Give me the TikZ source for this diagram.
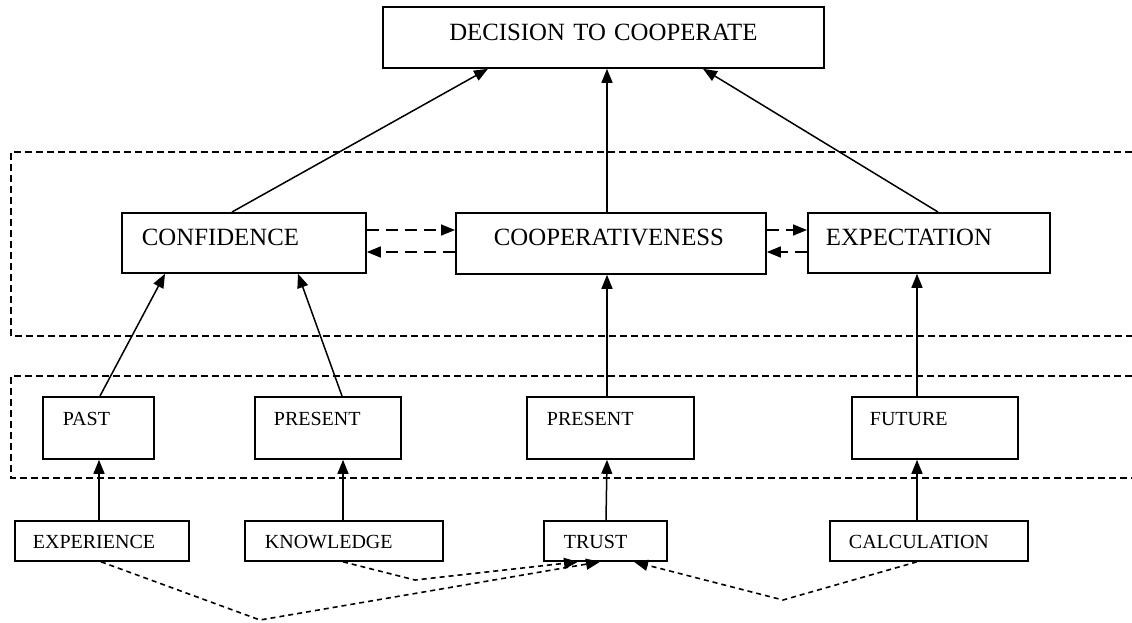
\documentclass[tikz,border=0pt]{standalone}
\usepackage{fontspec}
\setmainfont{Liberation Serif}
\usetikzlibrary{arrows.meta}
\tikzset{
  bx/.style={draw, line width=1.8pt, inner xsep=2pt, inner ysep=0pt, anchor=north west, align=left},
  big/.style={font=\fontsize{24.8}{28}\selectfont, text height=33pt, text depth=27pt},
  mid/.style={font=\fontsize{20}{24}\selectfont, text height=29pt, text depth=33pt},
  low/.style={font=\fontsize{20}{24}\selectfont, text height=28pt, text depth=12pt},
  arr/.style={line width=1.5pt, -{Triangle[length=14pt,width=11pt]}},
  darr/.style={line width=1.7pt, dash pattern=on 12pt off 7pt, -{Triangle[length=14pt,width=11pt]}},
  barr/.style={line width=1.6pt, dash pattern=on 5pt off 4pt, -{Triangle[length=14pt,width=11pt]}},
  frame/.style={line width=1.5pt, dash pattern=on 7pt off 4pt}
}
\begin{document}
\begin{tikzpicture}[x=1pt,y=-1pt]
\fill[white] (0,0) rectangle (1132,622);
\useasboundingbox (0,0) rectangle (1132,622);

% dashed frames (open at right)
\draw[frame] (1132,152) -- (11,152) -- (11,336) -- (1132,336);
\draw[frame] (1132,376) -- (11,376) -- (11,478) -- (1132,478);

% top
\node[bx, font=\fontsize{24.8}{28}\selectfont, text height=34pt, text depth=27pt, text width=437pt, align=center] (dec) at (382,6) {DECISION TO COOPERATE};

% middle level
\node[bx, big, text width=240pt] (conf) at (121,212) {\hspace*{18pt}CONFIDENCE};
\node[bx, big, text width=306pt, text depth=28pt] (coop) at (455,212) {\hspace*{36pt}COOPERATIVENESS};
\node[bx, big, text width=238pt] (expe) at (807,212) {\hspace*{16pt}EXPECTATION};

% time level
\node[bx, mid, text width=107pt] (past) at (42,396) {\hspace*{18pt}PAST};
\node[bx, mid, text width=142pt] (pres1) at (254,396) {\hspace*{17pt}PRESENT};
\node[bx, mid, text width=163pt] (pres2) at (526,396) {\hspace*{18pt}PRESENT};
\node[bx, mid, text width=162pt] (fut) at (851,396) {\hspace*{16pt}FUTURE};

% bottom level
\node[bx, low, text width=170pt] (expr) at (14,520) {\hspace*{16pt}EXPERIENCE};
\node[bx, low, text width=194pt] (know) at (244,520) {\hspace*{18pt}KNOWLEDGE};
\node[bx, low, text width=119pt] (trust) at (543,520) {\hspace*{18pt}TRUST};
\node[bx, low, text width=194pt] (calc) at (829,520) {\hspace*{17pt}CALCULATION};

% arrows to decision
\draw[arr] ([xshift=111pt]conf.north west) -- ([xshift=106pt]dec.south west);
\draw[arr] ([xshift=152pt]coop.north west) -- ([xshift=225pt]dec.south west);
\draw[arr] ([xshift=131pt]expe.north west) -- ([xshift=321pt]dec.south west);

% dashed exchanges
\draw[darr] ([yshift=-18pt]conf.north east) -- ([yshift=-18pt]coop.north west);
\draw[darr] ([yshift=-40pt]coop.north west) -- ([yshift=-40pt]conf.north east);
\draw[darr] ([yshift=-18pt]coop.north east) -- ([yshift=-18pt]expe.north west);
\draw[darr] ([yshift=-40pt]expe.north west) -- ([yshift=-40pt]coop.north east);

% time level to middle level
\draw[arr] ([xshift=58pt]past.north west) -- ([xshift=44pt]conf.south west);
\draw[arr] ([xshift=88pt]pres1.north west) -- ([xshift=177pt]conf.south west);
\draw[arr] ([xshift=81pt]pres2.north west) -- ([xshift=152pt]coop.south west);
\draw[arr] ([xshift=66pt]fut.north west) -- ([xshift=110pt]expe.south west);

% bottom to time level
\draw[arr] ([xshift=85pt]expr.north west) -- ([xshift=57pt]past.south west);
\draw[arr] ([xshift=99pt]know.north west) -- ([xshift=89pt]pres1.south west);
\draw[arr] ([xshift=63pt]trust.north west) -- ([xshift=81pt]pres2.south west);
\draw[arr] ([xshift=88pt]calc.north west) -- ([xshift=66pt]fut.south west);

% dashed links to trust
\coordinate (v1) at (260,620);
\coordinate (v2) at (415,580);
\coordinate (v3) at (783,600);
\draw[barr] ([xshift=87pt]expr.south west) -- (v1) -- ([xshift=57pt]trust.south west);
\draw[barr] ([xshift=99pt]know.south west) -- (v2) -- ([xshift=35pt]trust.south west);
\draw[barr] ([xshift=88pt]calc.south west) -- (v3) -- ([xshift=91pt]trust.south west);
\end{tikzpicture}
\end{document}
